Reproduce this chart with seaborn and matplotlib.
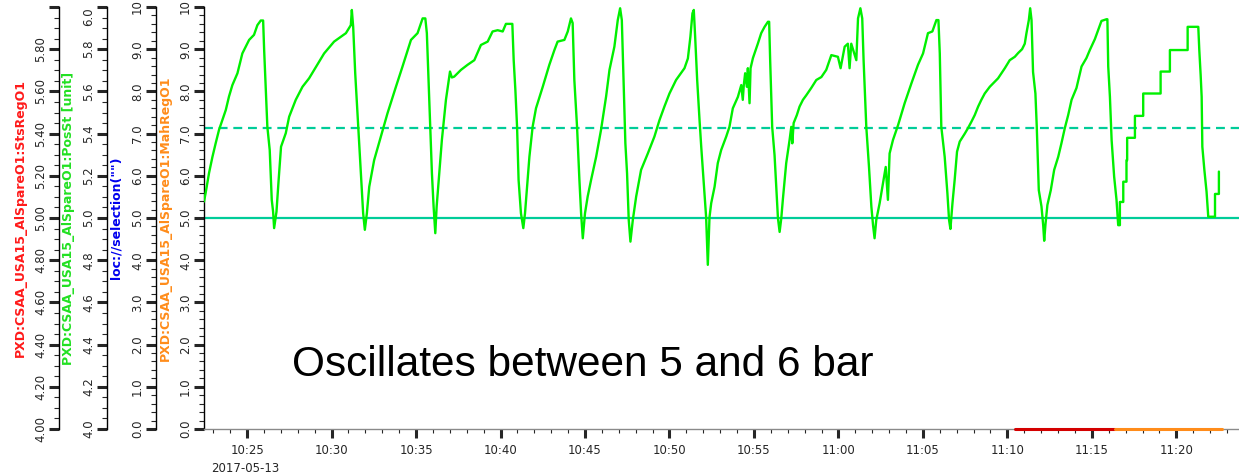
import numpy as np
import pandas as pd
import matplotlib
matplotlib.use("Agg")
import matplotlib.pyplot as plt
import matplotlib.dates as mdates
from matplotlib.ticker import MultipleLocator
import seaborn as sns

sns.set_style("ticks")
plt.rcParams['font.family'] = ['DejaVu Sans']

# -------------------------------
# Data
# times are minutes after 10:00 on 2017-05-13
# PosSt values as read on the 0-10 scale
# -------------------------------
pos_min = [
    22.45, 22.55, 22.75, 22.95, 23.14, 23.34, 23.74, 23.93, 24.13, 24.43, 24.72, 25.12, 25.41, 25.61, 25.81, 25.95,
    26.01, 26.20, 26.34, 26.46, 26.54, 26.60,
    26.74, 26.86, 27.01, 27.29, 27.49, 27.88, 28.28, 28.67, 28.97, 29.56, 30.15, 30.85, 31.14, 31.20,
    31.28, 31.40, 31.58, 31.73, 31.87, 31.97,
    32.09, 32.23, 32.52, 32.92, 33.31, 33.81, 34.20, 34.70, 35.09, 35.39, 35.55,
    35.64, 35.74, 35.84, 35.94, 36.04, 36.14,
    36.22, 36.33, 36.53, 36.77, 37.01, 37.12, 37.26, 37.66, 38.05, 38.45, 38.84, 39.24, 39.53, 39.83, 40.13, 40.32,
    40.70,
    40.78, 40.88, 40.98, 41.07, 41.21, 41.35,
    41.45, 41.57, 41.71, 41.90, 42.10, 42.50, 42.89, 43.19, 43.38, 43.78, 43.98, 44.17,
    44.27, 44.37, 44.53, 44.67, 44.77, 44.87,
    45.00, 45.16, 45.36, 45.66, 45.95, 46.25, 46.45, 46.74, 46.94, 47.08,
    47.18, 47.29, 47.39, 47.49, 47.59, 47.69,
    47.83, 48.03, 48.32, 48.72, 49.11, 49.41, 49.70, 50.00, 50.39, 50.89, 51.09, 51.24, 51.36, 51.44,
    51.52, 51.64, 51.78, 51.88, 51.99, 52.07, 52.17, 52.27,
    52.37, 52.47, 52.67, 52.86, 53.06, 53.36, 53.55, 53.75, 54.05, 54.25, 54.34, 54.40, 54.48, 54.58, 54.64,
    54.74, 54.80, 54.94, 55.23, 55.43, 55.63, 55.83, 55.90,
    55.96, 56.08, 56.22, 56.32, 56.42, 56.52,
    56.62, 56.71, 56.91, 57.11, 57.21, 57.27, 57.35, 57.54, 57.70, 57.90, 58.10, 58.39, 58.69,
    58.99, 59.28, 59.58, 59.97, 60.13, 60.37, 60.56, 60.66, 60.76, 61.06, 61.10, 61.16, 61.30,
    61.41, 61.49, 61.65, 61.81, 61.95, 62.05, 62.14,
    62.24, 62.44, 62.64, 62.80, 62.93, 63.03, 63.23, 63.53, 63.92, 64.32, 64.71, 65.01, 65.30, 65.56, 65.80,
    65.92,
    66.00, 66.09, 66.29, 66.45, 66.55, 66.63,
    66.75, 66.88, 67.02, 67.18, 67.48, 67.67, 67.87, 68.07, 68.27, 68.46, 68.66, 68.96,
    69.25, 69.45, 69.65, 69.85, 70.14, 70.44, 70.64, 70.87, 71.03, 71.13, 71.27, 71.35,
    71.43, 71.52, 71.66, 71.74, 71.86, 72.02, 72.12, 72.18,
    72.26, 72.37, 72.57, 72.77, 73.01, 73.20, 73.40, 73.60, 73.80, 74.09, 74.39, 74.68, 74.88, 75.18, 75.38,
    75.57, 75.87, 75.92,
    75.97, 76.07, 76.17, 76.32, 76.46, 76.56,
    76.66, 76.66, 76.86, 76.86, 77.05, 77.05, 77.09, 77.09, 77.55, 77.55, 78.04, 78.04, 79.07, 79.07,
    79.62, 79.62, 80.67, 80.67, 81.30,
    81.36, 81.44, 81.50, 81.54, 81.66, 81.79, 81.89, 82.29, 82.29, 82.52, 82.52,
]
pos_val = [
    5.39, 5.60, 6.07, 6.45, 6.77, 7.09, 7.56, 7.88, 8.15, 8.43, 8.90, 9.22, 9.34, 9.57, 9.68, 9.68,
    8.98, 7.16, 6.61, 5.43, 5.15, 4.76,
    5.15, 5.86, 6.69, 7.01, 7.40, 7.80, 8.11, 8.31, 8.51, 8.90, 9.18, 9.38, 9.57, 9.93,
    9.53, 8.43, 7.16, 6.14, 5.11, 4.72,
    5.11, 5.74, 6.37, 6.93, 7.48, 8.11, 8.59, 9.22, 9.38, 9.73, 9.73,
    9.38, 8.27, 7.16, 6.06, 5.27, 4.64,
    5.27, 5.82, 6.85, 7.80, 8.47, 8.33, 8.35, 8.51, 8.63, 8.74, 9.10, 9.18, 9.42, 9.45, 9.42, 9.60,
    9.60,
    8.74, 8.03, 7.16, 5.90, 5.11, 4.76,
    5.11, 5.74, 6.45, 7.16, 7.60, 8.11, 8.63, 8.98, 9.18, 9.22, 9.42, 9.73,
    9.62, 8.27, 7.16, 5.90, 5.11, 4.52,
    5.11, 5.51, 5.90, 6.45, 7.09, 7.88, 8.51, 9.06, 9.69, 9.97,
    9.69, 8.19, 6.77, 6.06, 4.95, 4.44,
    4.95, 5.51, 6.14, 6.53, 6.93, 7.32, 7.64, 7.95, 8.27, 8.55, 8.78, 9.30, 9.85, 9.93,
    9.30, 8.27, 7.32, 6.69, 6.06, 5.59, 5.02, 3.89,
    5.02, 5.35, 5.74, 6.30, 6.61, 6.93, 7.16, 7.60, 7.87, 8.15, 7.80, 8.15, 8.43, 8.11, 8.55,
    7.72, 8.55, 8.79, 9.13, 9.38, 9.53, 9.65, 9.65,
    8.74, 7.16, 6.49, 5.74, 5.00, 4.67,
    5.00, 5.43, 6.30, 6.85, 7.16, 6.77, 7.25, 7.44, 7.64, 7.80, 7.91, 8.08, 8.27,
    8.34, 8.51, 8.86, 8.82, 8.55, 9.06, 9.13, 8.55, 9.13, 8.74, 9.13, 9.73, 9.97,
    9.73, 8.74, 7.16, 6.21, 5.27, 4.83, 4.52,
    4.95, 5.35, 5.83, 6.21, 5.43, 6.53, 6.85, 7.20, 7.72, 8.19, 8.63, 8.90, 9.38, 9.42, 9.69,
    9.69,
    8.90, 7.16, 6.45, 5.59, 4.95, 4.74,
    5.35, 5.90, 6.57, 6.81, 7.00, 7.13, 7.28, 7.44, 7.64, 7.80, 7.95, 8.11,
    8.23, 8.31, 8.43, 8.55, 8.74, 8.82, 8.91, 9.00, 9.13, 9.38, 9.69, 9.97,
    9.69, 8.46, 7.95, 7.16, 5.66, 5.27, 4.83, 4.46,
    4.87, 5.31, 5.66, 6.14, 6.45, 6.77, 7.13, 7.44, 7.80, 8.08, 8.59, 8.79, 8.98, 9.24, 9.46,
    9.67, 9.71, 9.71,
    8.59, 7.87, 6.85, 5.98, 5.43, 4.83,
    4.83, 5.38, 5.38, 5.86, 5.86, 6.37, 6.37, 6.90, 6.90, 7.42, 7.42, 7.95, 7.95, 8.47,
    8.47, 8.98, 8.98, 9.53, 9.53,
    8.98, 8.39, 7.87, 6.69, 6.14, 5.62, 5.03, 5.03, 5.57, 5.57, 6.10,
]

# limit lines (0-10 scale)
limit_solid = 5.0
limit_dashed = 7.13

# StsRegO1 / MahRegO1 segments sitting on the bottom of the plot
sts_min = [70.44, 76.36]
sts_val = [0.0, 0.0]
mah_min = [76.36, 82.70]
mah_val = [0.0, 0.0]

# visible time window
x_start, x_end = 22.45, 83.71

# axis labels
label_sts = "PXD:CSAA_USA15_AlSpareO1:StsRegO1"
label_pos = "PXD:CSAA_USA15_AlSpareO1:PosSt [unit]"
label_sel = 'loc://selection("")'
label_mah = "PXD:CSAA_USA15_AlSpareO1:MahRegO1"

ticks_10 = list(range(0, 11))
ticklabels_10 = ["0.0", "1.0", "2.0", "3.0", "4.0", "5.0", "6.0", "7.0", "8.0", "9.0", "10"]
ticks_46 = [4.0, 4.2, 4.4, 4.6, 4.8, 5.0, 5.2, 5.4, 5.6, 5.8, 6.0]
ticklabels_sts = ["4.00", "4.20", "4.40", "4.60", "4.80", "5.00", "5.20", "5.40", "5.60", "5.80", ""]
ticklabels_pos = ["4.0", "4.2", "4.4", "4.6", "4.8", "5.0", "5.2", "5.4", "5.6", "5.8", "6.0"]

day = pd.Timestamp("2017-05-13 10:00")


def to_time(minutes):
    return day + pd.to_timedelta(minutes, unit="min")


green = "#00F000"
teal = "#00CC99"
tick_col = "#262626"

W, H = 1239, 475
left_px, right_px, top_px, bottom_px = 204, 1239, 7, 429

fig = plt.figure(figsize=(W / 100, H / 100), dpi=100)
ax = fig.add_axes([left_px / W, 1 - bottom_px / H, (right_px - left_px) / W, (bottom_px - top_px) / H])

# -------------------------------
# Traces
# -------------------------------
df = pd.DataFrame({"time": to_time(pos_min), "value": pos_val})
sns.lineplot(data=df, x="time", y="value", ax=ax, color=green, lw=1.7,
             estimator=None, sort=False, zorder=3)

ax.axhline(limit_solid, color=teal, lw=1.6, zorder=2)
ax.axhline(limit_dashed, color=teal, lw=1.6, dashes=(4, 2.6), zorder=2)

sns.lineplot(x=to_time(sts_min), y=sts_val, ax=ax, color="#D40000", lw=2.2,
             clip_on=False, zorder=6)
sns.lineplot(x=to_time(mah_min), y=mah_val, ax=ax, color="#FF8C1A", lw=2.2,
             clip_on=False, zorder=6)

ax.set_xlim(to_time(x_start), to_time(x_end))
ax.set_ylim(0, 10)
ax.set_xlabel("")

# x axis
ax.xaxis.set_major_locator(mdates.MinuteLocator(byminute=range(0, 60, 5)))
ax.xaxis.set_minor_locator(mdates.MinuteLocator())
ax.xaxis.set_major_formatter(mdates.DateFormatter("%H:%M"))
ax.tick_params(axis="x", which="major", length=6.5, width=2.2, pad=4.5,
               labelsize=8.5, labelcolor=tick_col)
ax.tick_params(axis="x", which="minor", length=3, width=0.8)
ax.spines["bottom"].set_color("#8a8a8a")
ax.spines["bottom"].set_linewidth(1.0)
ax.spines["top"].set_visible(False)
ax.spines["right"].set_visible(False)


def style_y(a, ticks, labels, minor, name, color, label_right_px, top_va="center"):
    a.set_ylim(ticks[0], ticks[-1])
    a.set_yticks(ticks, labels)
    a.yaxis.set_minor_locator(MultipleLocator(minor))
    a.tick_params(axis="y", which="major", length=7.2, width=2.2, pad=1.5,
                  labelsize=8.5, labelcolor=tick_col, labelrotation=90)
    a.tick_params(axis="y", which="minor", length=3.6, width=0.8)
    for t in a.get_yticklabels():
        t.set_va("center")
    a.get_yticklabels()[-1].set_va(top_va)
    a.spines["left"].set_color("black")
    a.spines["left"].set_linewidth(1.0)
    a.set_ylabel(name, color=color, fontsize=9, fontweight="bold")
    a.yaxis.set_label_coords((label_right_px - left_px) / (right_px - left_px), 0.5)


def side_axis(spine_px):
    tw = ax.twinx()
    tw.yaxis.tick_left()
    tw.yaxis.set_label_position("left")
    for s in ["top", "right", "bottom"]:
        tw.spines[s].set_visible(False)
    tw.spines["left"].set_visible(True)
    tw.spines["left"].set_position(("outward", (left_px - spine_px) * 0.72))
    return tw


# host axis: MahRegO1 0-10
style_y(ax, ticks_10, ticklabels_10, 0.2, label_mah, "#FF8C1A", 172)

# selection axis 0-10
ax_sel = side_axis(156)
style_y(ax_sel, ticks_10, ticklabels_10, 0.2, label_sel, "#0000EE", 123)

# PosSt axis 4-6
ax_pos = side_axis(107.3)
style_y(ax_pos, ticks_46, ticklabels_pos, 0.05, label_pos, "#22E022", 75, top_va="top")

# StsRegO1 axis 4-6
ax_sts = side_axis(59.3)
style_y(ax_sts, ticks_46, ticklabels_sts, 0.05, label_sts, "#FF1A1A", 27)

# date under first time label
fig.text(211 / W, 1 - 469 / H, "2017-05-13", fontsize=8.5, color=tick_col,
         ha="left", va="center")

# annotation
fig.text(292 / W, 1 - 376 / H, "Oscillates between 5 and 6 bar", fontsize=30.5,
         family=["Liberation Sans", "DejaVu Sans"], ha="left", va="baseline", color="black")

fig.savefig("out.png", dpi=100)
